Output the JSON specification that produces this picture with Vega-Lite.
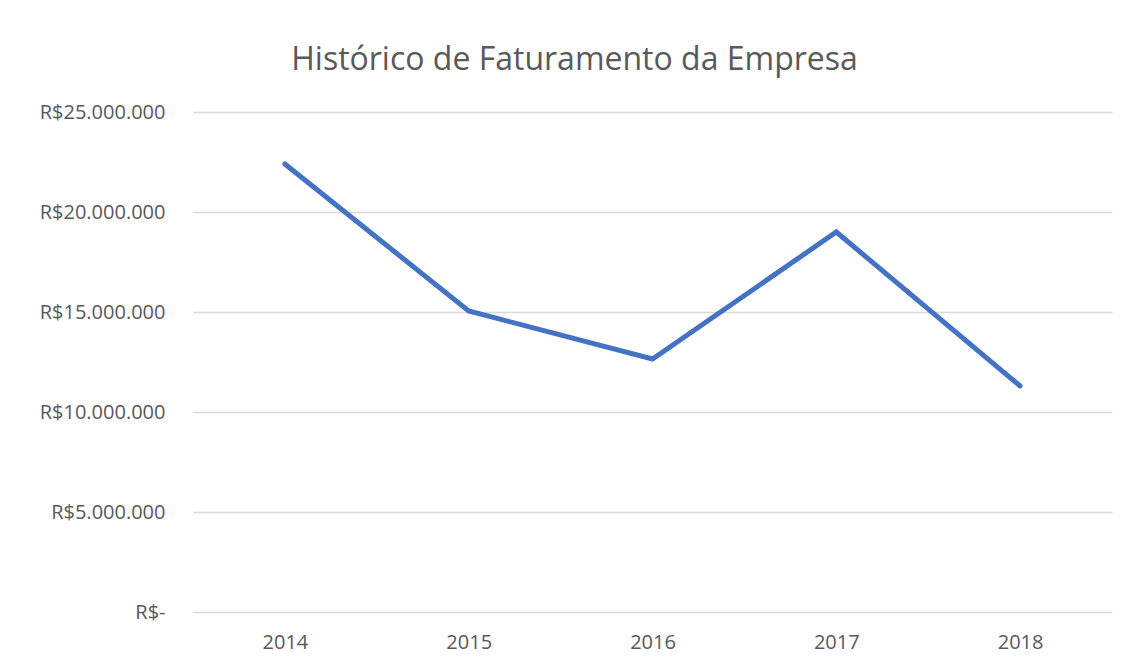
{
  "$schema": "https://vega.github.io/schema/vega-lite/v6.json",
  "autosize": {"type": "none"},
  "width": 919,
  "height": 500,
  "padding": {"left": 193, "top": 112, "right": 15, "bottom": 54},
  "background": "white",
  "title": {
    "text": "Histórico de Faturamento da Empresa",
    "anchor": "middle",
    "frame": "group",
    "dx": -78,
    "dy": 42,
    "offset": 42,
    "baseline": "alphabetic",
    "font": "Open Sans",
    "fontSize": 32,
    "fontWeight": "normal",
    "color": "#595959"
  },
  "data": {
    "values": [
      {"ano": "2014", "faturamento": 22400000},
      {"ano": "2015", "faturamento": 15050000},
      {"ano": "2016", "faturamento": 12650000},
      {"ano": "2017", "faturamento": 19000000},
      {"ano": "2018", "faturamento": 11300000}
    ]
  },
  "mark": {"type": "line", "color": "#4472C4", "strokeWidth": 5, "strokeCap": "round", "strokeJoin": "miter"},
  "encoding": {
    "x": {
      "field": "ano",
      "type": "ordinal",
      "scale": {"type": "point", "padding": 0.5},
      "axis": {
        "title": null,
        "labelAngle": 0,
        "ticks": false,
        "domain": false,
        "grid": false,
        "labelPadding": 20,
        "labelFont": "Open Sans",
        "labelFontSize": 20,
        "labelColor": "#595959"
      }
    },
    "y": {
      "field": "faturamento",
      "type": "quantitative",
      "scale": {"domain": [0, 25000000], "nice": false},
      "axis": {
        "title": null,
        "values": [0, 5000000, 10000000, 15000000, 20000000, 25000000],
        "labelExpr": "datum.value == 0 ? 'R$-' : 'R$' + replace(replace(format(datum.value, ',.0f'), ',', '.'), ',', '.')",
        "ticks": false,
        "domain": false,
        "grid": true,
        "gridColor": "#d9d9d9",
        "gridWidth": 1.5,
        "labelPadding": 28,
        "labelFont": "Open Sans",
        "labelFontSize": 20,
        "labelColor": "#595959"
      }
    }
  },
  "config": {"view": {"stroke": null}}
}
